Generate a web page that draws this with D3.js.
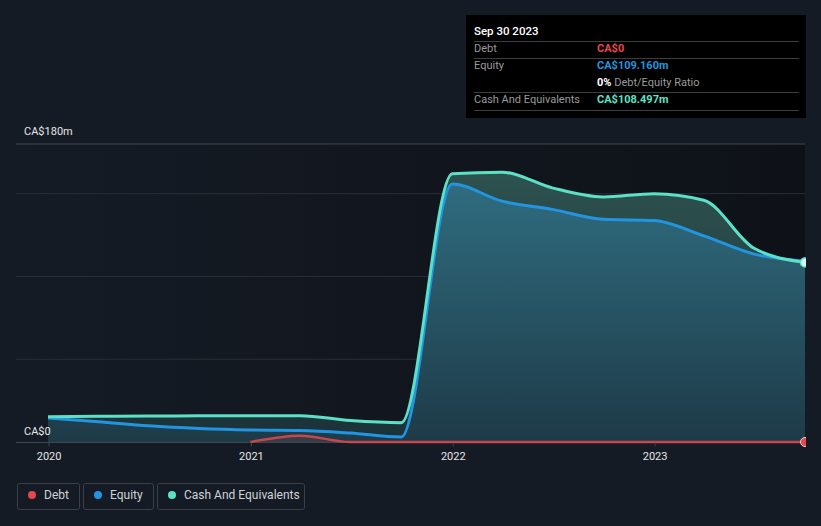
<!DOCTYPE html>
<html><head><meta charset="utf-8">
<script src="https://cdn.jsdelivr.net/npm/d3@7"></script>
<style>
html,body{margin:0;padding:0;background:#151b25;}
svg{display:block;font-family:Roboto,"Open Sans",sans-serif;}
</style></head>
<body><svg id="c" width="821" height="526"></svg>
<script>
const dates = ["2019-12-31","2020-03-31","2020-06-30","2020-09-30","2020-12-31","2021-03-31","2021-06-30","2021-09-30","2021-12-31","2022-03-31","2022-06-30","2022-09-30","2022-12-31","2023-03-31","2023-06-30","2023-09-30"];
const equity = [14.5, 12.3, 9.8, 8.2, 7.3, 7.0, 5.4, 3.0, 155.8, 145.5, 140.5, 134.5, 133.8, 124.5, 113.5, 109.16];
const cash   = [15.3, 15.5, 15.7, 15.8, 15.9, 15.9, 13.0, 11.7, 162.0, 163.0, 153.5, 148.0, 150.0, 146.0, 117.0, 108.497];
const debtDates = ["2020-12-31","2021-03-31","2021-06-30","2021-09-30","2021-12-31","2022-03-31","2022-06-30","2022-09-30","2022-12-31","2023-03-31","2023-06-30","2023-09-30"];
const debt = [0, 3.8, 0, 0, 0, 0, 0, 0, 0, 0, 0, 0];
const yTicks = [0, 50, 100, 150, 180];
const yLabels = ["CA$0", "CA$180m"];
const xTickYears = [2020, 2021, 2022, 2023];
const legendItems = ["Debt", "Equity", "Cash And Equivalents"];
const colors = {Debt:"#e5484d", Equity:"#2394df", Cash:"#5ce0c6"};

const parse = d3.timeParse("%Y-%m-%d");
const svg = d3.select("#c");
const x = d3.scaleTime().domain([parse(dates[0]), parse(dates[dates.length-1])]).range([48, 805]);
const y = d3.scaleLinear().domain([0, 180]).range([442, 144]);

const defs = svg.append("defs");
const gBg = defs.append("linearGradient").attr("id","gBg").attr("gradientUnits","userSpaceOnUse").attr("x1",16).attr("x2",805).attr("y1",0).attr("y2",0);
gBg.append("stop").attr("offset","0").attr("stop-color","#0e1218").attr("stop-opacity",0);
gBg.append("stop").attr("offset","1").attr("stop-color","#0e1218").attr("stop-opacity",1);

// dark highlight region (horizontal fade)
svg.append("rect").attr("x", 16).attr("y", 144).attr("width", 805-16).attr("height", 442-144).attr("fill", "url(#gBg)");

// gridlines
svg.append("g").selectAll("line").data(yTicks.filter(d=>d>0)).join("line")
  .attr("x1", 16).attr("x2", 805).attr("y1", d=>y(d)).attr("y2", d=>y(d))
  .attr("stroke", d=> d===180 ? "#41464f" : "#2a2f37").attr("stroke-width", 1);

const g1 = defs.append("linearGradient").attr("id","gEq").attr("gradientUnits","userSpaceOnUse").attr("x1",0).attr("x2",0).attr("y1",180).attr("y2",442);
g1.append("stop").attr("offset","0").attr("stop-color","#2f6d80");
g1.append("stop").attr("offset","1").attr("stop-color","#1e3a47");
const g2 = defs.append("linearGradient").attr("id","gCash").attr("gradientUnits","userSpaceOnUse").attr("x1",0).attr("x2",0).attr("y1",170).attr("y2",442);
g2.append("stop").attr("offset","0").attr("stop-color","#2d524f");
g2.append("stop").attr("offset","1").attr("stop-color","#1c3139");

const curve = d3.curveMonotoneX;
const cashData = dates.map((d,i)=>({d:parse(d), v:cash[i]}));
const eqData = dates.map((d,i)=>({d:parse(d), v:equity[i]}));
const debtData = debtDates.map((d,i)=>({d:parse(d), v:debt[i]}));

const area = d3.area().x(p=>x(p.d)).y0(y(0)).y1(p=>y(p.v)).curve(curve);
const line = d3.line().x(p=>x(p.d)).y(p=>y(p.v)).curve(curve);

svg.append("path").datum(cashData).attr("d", area).attr("fill", "url(#gCash)");
svg.append("path").datum(eqData).attr("d", area).attr("fill", "url(#gEq)");
svg.append("path").datum(debtData).attr("d", area).attr("fill", "#3a3f48").attr("opacity", 0.8);

// axis baseline
svg.append("line").attr("x1", 16).attr("x2", 805).attr("y1", y(0)+0.5).attr("y2", y(0)+0.5).attr("stroke", "#41464f").attr("stroke-width", 1);

svg.append("path").datum(debtData).attr("d", line).attr("fill","none").attr("stroke", colors.Debt).attr("stroke-width", 2.5).attr("opacity",0.85);
svg.append("path").datum(eqData).attr("d", line).attr("fill","none").attr("stroke", colors.Equity).attr("stroke-width", 3);
svg.append("path").datum(cashData).attr("d", line).attr("fill","none").attr("stroke", colors.Cash).attr("stroke-width", 3);

// x axis
const xAxis = d3.axisBottom(x).tickValues(xTickYears.map(yr=>new Date(yr,0,1))).tickFormat(d3.timeFormat("%Y")).tickSize(4).tickPadding(6);
const ga = svg.append("g").attr("transform", `translate(0,${y(0)+0.5})`).call(xAxis);
ga.select(".domain").remove();
ga.selectAll(".tick line").attr("stroke","#41464f");
ga.selectAll(".tick text").attr("fill","#e6e6e6").attr("font-size",11).attr("font-family","Roboto,sans-serif");

// y labels
svg.append("text").attr("x", 24).attr("y", y(180)-9).attr("fill","#e6e6e6").attr("font-size",11).text(yLabels[1]);
svg.append("text").attr("x", 24).attr("y", y(0)-7).attr("fill","#e6e6e6").attr("font-size",11).text(yLabels[0]);

// hover points
const last = dates.length-1;
svg.append("circle").attr("cx", x(parse(dates[last]))).attr("cy", y(equity[last])).attr("r",4).attr("fill",colors.Equity);
svg.append("circle").attr("cx", x(parse(dates[last]))).attr("cy", y(cash[last])).attr("r",4.5).attr("fill","#d8f7f1").attr("stroke",colors.Cash).attr("stroke-width",1.5);
svg.append("circle").attr("cx", x(parse(debtDates[debtDates.length-1]))).attr("cy", y(0)).attr("r",4.5).attr("fill",colors.Debt).attr("stroke","#f0d0d0").attr("stroke-width",1);

// right side strip
svg.append("rect").attr("x", 806).attr("y", 130).attr("width", 15).attr("height", 330).attr("fill", "#151b25");

// tooltip
const tt = svg.append("g");
tt.append("rect").attr("x",466).attr("y",15).attr("width",340).attr("height",103).attr("fill","#000");
tt.append("text").attr("x",474).attr("y",35).attr("fill","#fff").attr("font-size",11.5).attr("font-weight",500).text("Sep 30 2023");
[41,58,92,110].forEach(yy=>tt.append("line").attr("x1",474).attr("x2",799).attr("y1",yy+0.5).attr("y2",yy+0.5).attr("stroke","#3d3d3d"));
const rows = [
  {label:"Debt", y:52, val:"CA$0", col:colors.Debt},
  {label:"Equity", y:69, val:"CA$109.160m", col:colors.Equity},
  {label:"Cash And Equivalents", y:103, val:"CA$108.497m", col:colors.Cash}
];
rows.forEach(r=>{
  tt.append("text").attr("x",474).attr("y",r.y).attr("fill","#9a9a9a").attr("font-size",11).text(r.label);
  tt.append("text").attr("x",597).attr("y",r.y).attr("fill",r.col).attr("font-size",11).attr("font-weight",700).text(r.val);
});
const rt = tt.append("text").attr("x",597).attr("y",86).attr("font-size",11);
rt.append("tspan").attr("fill","#fff").attr("font-weight",700).text("0%");
rt.append("tspan").attr("fill","#9a9a9a").text(" Debt/Equity Ratio");

// legend
const lg = svg.append("g");
const boxes = [{x:17,w:62,c:colors.Debt},{x:83,w:70,c:colors.Equity},{x:157,w:147,c:colors.Cash}];
legendItems.forEach((t,i)=>{
  const b = boxes[i];
  lg.append("rect").attr("x",b.x+0.5).attr("y",483.5).attr("width",b.w).attr("height",26).attr("rx",2).attr("fill","none").attr("stroke","#3a3f48");
  lg.append("circle").attr("cx",b.x+15).attr("cy",495).attr("r",4).attr("fill",b.c);
  lg.append("text").attr("x",b.x+27).attr("y",499).attr("fill","#cfd2d6").attr("font-size",12).text(t);
});
</script></body></html>
